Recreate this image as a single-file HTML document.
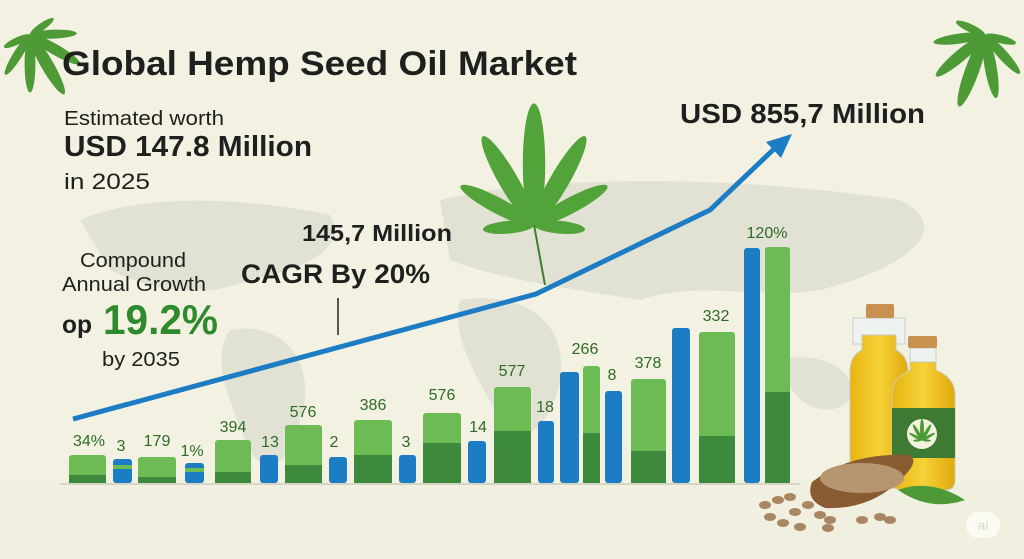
<!DOCTYPE html>
<html><head><meta charset="utf-8"><style>
body{margin:0;width:1024px;height:559px;overflow:hidden;background:#f3f2e2;font-family:"Liberation Sans",sans-serif;}
svg{position:absolute;left:0;top:0}
</style></head><body>
<svg width="1024" height="559" viewBox="0 0 1024 559" xmlns="http://www.w3.org/2000/svg">
<defs>
<g id="leaf">
 <ellipse cx="0" cy="-38" rx="7" ry="38" transform="rotate(0)"/>
 <ellipse cx="0" cy="-32" rx="6" ry="32" transform="rotate(-30)"/>
 <ellipse cx="0" cy="-32" rx="6" ry="32" transform="rotate(30)"/>
 <ellipse cx="0" cy="-26" rx="5" ry="26" transform="rotate(-62)"/>
 <ellipse cx="0" cy="-26" rx="5" ry="26" transform="rotate(62)"/>
 <ellipse cx="0" cy="-16" rx="4" ry="16" transform="rotate(-95)"/>
 <ellipse cx="0" cy="-16" rx="4" ry="16" transform="rotate(95)"/>
</g>
<linearGradient id="oil" x1="0" x2="1"><stop offset="0" stop-color="#e7b410"/><stop offset=".5" stop-color="#f6d238"/><stop offset="1" stop-color="#e0a90c"/></linearGradient>
</defs>
<rect width="1024" height="559" fill="#f3f2e2"/>
<g fill="#e2e2d4">
 <path d="M80 220 C150 190 260 200 330 215 C350 250 300 270 250 280 C200 300 150 290 110 270 Z"/>
 <path d="M230 330 C280 320 320 360 300 420 C290 470 260 480 245 440 C230 400 210 360 230 330 Z"/>
 <path d="M440 200 C520 180 700 170 900 200 C960 230 900 270 820 290 C760 300 700 280 640 300 C580 290 500 280 450 260 Z"/>
 <path d="M460 300 C520 290 570 320 560 380 C550 430 520 450 500 420 C480 380 450 340 460 300 Z"/>
 <path d="M780 360 C820 350 860 370 850 400 C830 420 790 410 780 360 Z"/>
</g>
<rect x="0" y="484" width="1024" height="75" fill="#f1f0e0"/>
<g fill="#4d9a36"><use href="#leaf" transform="translate(30,35) rotate(150) scale(0.9)"/></g>
<g fill="#4d9a36"><use href="#leaf" transform="translate(985,35) rotate(200) scale(1.0)"/></g>
<g fill="#52a33a"><use href="#leaf" transform="translate(534,225) scale(1.6)"/></g>
<line x1="534" y1="225" x2="545" y2="285" stroke="#3d7f2c" stroke-width="2"/>
<g>
<rect x="69" y="455" width="37" height="28" rx="3" fill="#6cbb55"/><rect x="69" y="475" width="37" height="8" fill="#3e8a3c"/>
<rect x="113" y="459" width="19" height="24" rx="3" fill="#1c7cc4"/><rect x="113" y="465" width="19" height="4" fill="#6cbb55"/>
<rect x="138" y="457" width="38" height="26" rx="3" fill="#6cbb55"/><rect x="138" y="477" width="38" height="6" fill="#3e8a3c"/>
<rect x="185" y="463" width="19" height="20" rx="3" fill="#1c7cc4"/><rect x="185" y="468" width="19" height="4" fill="#6cbb55"/>
<rect x="215" y="440" width="36" height="43" rx="3" fill="#6cbb55"/><rect x="215" y="472" width="36" height="11" fill="#3e8a3c"/>
<rect x="260" y="455" width="18" height="28" rx="3" fill="#1c7cc4"/>
<rect x="285" y="425" width="37" height="58" rx="3" fill="#6cbb55"/><rect x="285" y="465" width="37" height="18" fill="#3e8a3c"/>
<rect x="329" y="457" width="18" height="26" rx="3" fill="#1c7cc4"/>
<rect x="354" y="420" width="38" height="63" rx="3" fill="#6cbb55"/><rect x="354" y="455" width="38" height="28" fill="#3e8a3c"/>
<rect x="399" y="455" width="17" height="28" rx="3" fill="#1c7cc4"/>
<rect x="423" y="413" width="38" height="70" rx="3" fill="#6cbb55"/><rect x="423" y="443" width="38" height="40" fill="#3e8a3c"/>
<rect x="468" y="441" width="18" height="42" rx="3" fill="#1c7cc4"/>
<rect x="494" y="387" width="37" height="96" rx="3" fill="#6cbb55"/><rect x="494" y="431" width="37" height="52" fill="#3e8a3c"/>
<rect x="538" y="421" width="16" height="62" rx="3" fill="#1c7cc4"/>
<rect x="560" y="372" width="19" height="111" rx="3" fill="#1c7cc4"/>
<rect x="583" y="366" width="17" height="117" rx="3" fill="#6cbb55"/><rect x="583" y="433" width="17" height="50" fill="#3e8a3c"/>
<rect x="605" y="391" width="17" height="92" rx="3" fill="#1c7cc4"/>
<rect x="631" y="379" width="35" height="104" rx="3" fill="#6cbb55"/><rect x="631" y="451" width="35" height="32" fill="#3e8a3c"/>
<rect x="672" y="328" width="18" height="155" rx="3" fill="#1c7cc4"/>
<rect x="699" y="332" width="36" height="151" rx="3" fill="#6cbb55"/><rect x="699" y="436" width="36" height="47" fill="#3e8a3c"/>
<rect x="744" y="248" width="16" height="235" rx="3" fill="#1c7cc4"/>
<rect x="765" y="247" width="25" height="236" rx="3" fill="#6cbb55"/><rect x="765" y="392" width="25" height="91" fill="#3e8a3c"/>
</g>
<line x1="60" y1="484" x2="800" y2="484" stroke="#b9b9a8" stroke-width="1"/>
<g font-size="16" fill="#2e6b25" text-anchor="middle">
<text x="89" y="446">34%</text><text x="121" y="451">3</text><text x="157" y="446">179</text><text x="192" y="456">1%</text>
<text x="233" y="432">394</text><text x="270" y="447">13</text><text x="303" y="417">576</text><text x="334" y="447">2</text>
<text x="373" y="410">386</text><text x="406" y="447">3</text><text x="442" y="400">576</text><text x="478" y="432">14</text>
<text x="512" y="376">577</text><text x="545" y="412">18</text><text x="585" y="354">266</text><text x="612" y="380">8</text>
<text x="648" y="368">378</text><text x="716" y="321">332</text><text x="767" y="238">120%</text>
</g>
<polyline points="73,419 536,294 710,210 775,148" fill="none" stroke="#1c7cc4" stroke-width="5" stroke-linejoin="round"/>
<polygon points="792,134 766,142 781,158" fill="#1c7cc4"/>
<line x1="338" y1="298" x2="338" y2="335" stroke="#222" stroke-width="1.5"/>
<rect x="853" y="318" width="52" height="26" fill="#eef3f0" stroke="#c7cfc8"/>
<path d="M862 335 L896 335 L896 350 Q908 356 908 372 L908 478 Q908 488 898 488 L860 488 Q850 488 850 478 L850 372 Q850 356 862 350 Z" fill="url(#oil)" stroke="#c9c9b8"/>
<rect x="866" y="304" width="28" height="14" rx="2" fill="#c8914f"/>
<rect x="910" y="348" width="26" height="22" fill="#eef3f0" stroke="#c7cfc8"/>
<path d="M910 362 L936 362 L936 370 Q955 378 955 395 L955 480 Q955 490 945 490 L902 490 Q892 490 892 480 L892 395 Q892 378 910 370 Z" fill="url(#oil)" stroke="#c9c9b8"/>
<rect x="908" y="336" width="29" height="12" rx="2" fill="#c8914f"/>
<rect x="892" y="408" width="63" height="50" fill="#3f7a35"/>
<circle cx="922" cy="434" r="15" fill="#f3f1df"/>
<g fill="#4a9a32"><use href="#leaf" transform="translate(922,440) scale(0.28)"/></g>
<path d="M812 482 Q850 452 910 455 Q920 462 900 480 Q870 510 825 508 Q805 500 812 482 Z" fill="#8a5a30"/>
<ellipse cx="862" cy="478" rx="42" ry="15" fill="#b69670"/>
<path d="M898 490 Q930 478 965 500 Q930 512 898 490 Z" fill="#4e9a38"/>
<g fill="#a98763">
<ellipse cx="765" cy="505" rx="6" ry="4"/><ellipse cx="778" cy="500" rx="6" ry="4"/><ellipse cx="790" cy="497" rx="6" ry="4"/><ellipse cx="770" cy="517" rx="6" ry="4"/><ellipse cx="795" cy="512" rx="6" ry="4"/><ellipse cx="808" cy="505" rx="6" ry="4"/><ellipse cx="820" cy="515" rx="6" ry="4"/><ellipse cx="783" cy="523" rx="6" ry="4"/><ellipse cx="830" cy="520" rx="6" ry="4"/><ellipse cx="862" cy="520" rx="6" ry="4"/><ellipse cx="880" cy="517" rx="6" ry="4"/><ellipse cx="890" cy="520" rx="6" ry="4"/><ellipse cx="800" cy="527" rx="6" ry="4"/><ellipse cx="828" cy="528" rx="6" ry="4"/>
</g>
<rect x="966" y="512" width="34" height="26" rx="13" fill="#fbfbf3"/>
<text x="983" y="530" font-size="14" fill="#d8d8d0" text-anchor="middle">ai</text>
<g fill="#1f1f1f">
<text x="62" y="75" font-size="34" font-weight="bold" textLength="515" lengthAdjust="spacingAndGlyphs">Global Hemp Seed Oil Market</text>
<text x="64" y="125" font-size="20" textLength="160" lengthAdjust="spacingAndGlyphs">Estimated worth</text>
<text x="64" y="156" font-size="29" font-weight="bold" textLength="248" lengthAdjust="spacingAndGlyphs">USD 147.8 Million</text>
<text x="64" y="189" font-size="22" textLength="86" lengthAdjust="spacingAndGlyphs">in 2025</text>
<text x="80" y="267" font-size="20" textLength="106" lengthAdjust="spacingAndGlyphs">Compound</text>
<text x="62" y="291" font-size="20" textLength="144" lengthAdjust="spacingAndGlyphs">Annual Growth</text>
<text x="62" y="333" font-size="25" font-weight="bold" textLength="30" lengthAdjust="spacingAndGlyphs">op</text>
<text x="103" y="334" font-size="42" font-weight="bold" fill="#2f8a2e" textLength="115" lengthAdjust="spacingAndGlyphs">19.2%</text>
<text x="102" y="366" font-size="20" textLength="78" lengthAdjust="spacingAndGlyphs">by 2035</text>
<text x="302" y="241" font-size="23" font-weight="bold" textLength="150" lengthAdjust="spacingAndGlyphs">145,7 Million</text>
<text x="241" y="283" font-size="27" font-weight="bold" textLength="189" lengthAdjust="spacingAndGlyphs">CAGR By 20%</text>
<text x="680" y="123" font-size="28" font-weight="bold" textLength="245" lengthAdjust="spacingAndGlyphs">USD 855,7 Million</text>
</g>
</svg>
</body></html>
